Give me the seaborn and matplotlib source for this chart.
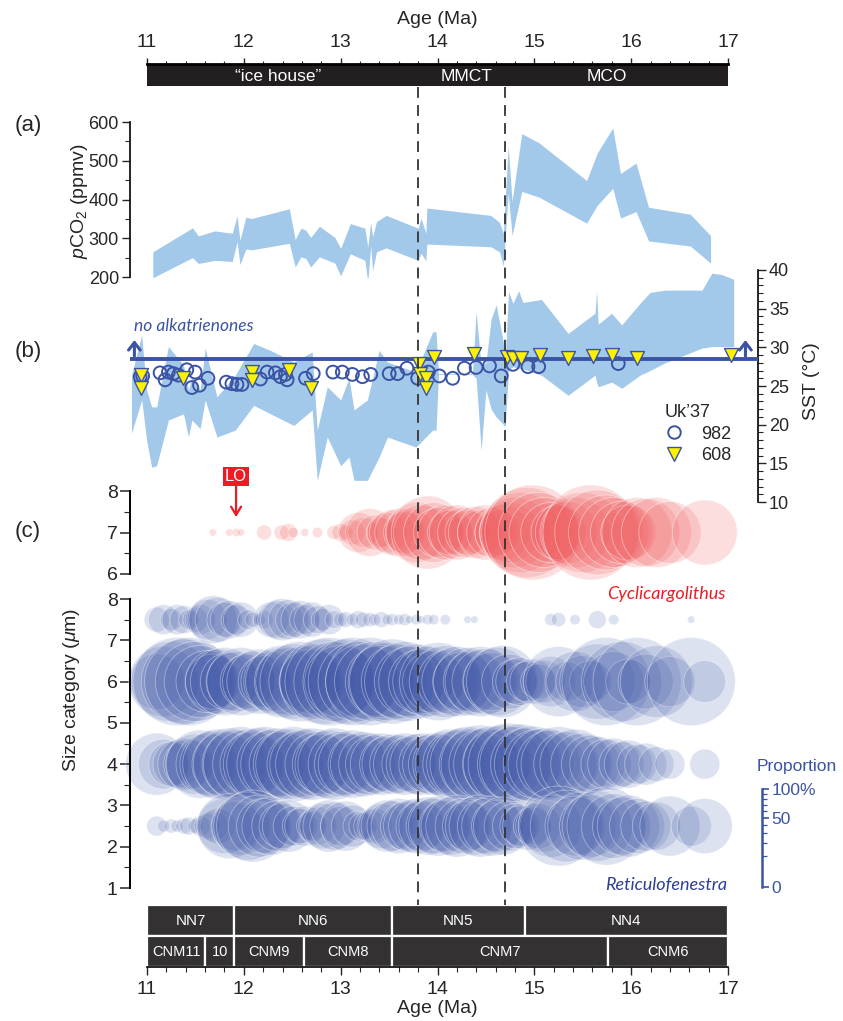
import numpy as np
import matplotlib
matplotlib.use("Agg")
import matplotlib.pyplot as plt
import seaborn as sns
from matplotlib import font_manager
from matplotlib.lines import Line2D
from matplotlib.ticker import MultipleLocator, FixedLocator

# ---------------- data ----------------
co2_age = [11.06, 11.47, 11.53, 11.70, 11.88, 11.93, 11.96, 12.02, 12.08, 12.47,
           12.53, 12.59, 12.64, 12.69, 12.78, 12.94, 13.00, 13.10, 13.25, 13.28,
           13.31, 13.33, 13.37, 13.47, 13.80, 13.83, 13.88, 13.89, 14.55, 14.64,
           14.68, 14.73, 14.77, 14.87, 15.05, 15.54, 15.65, 15.81, 15.89, 16.05,
           16.18, 16.61, 16.82]
co2_hi = [265, 327, 306, 319, 313, 358, 295, 354, 351, 376,
          297, 326, 321, 302, 331, 302, 274, 338, 326, 278,
          341, 304, 343, 359, 326, 352, 313, 378, 359, 341,
          313, 539, 395, 570, 546, 449, 520, 585, 467, 494,
          380, 362, 307]
co2_lo = [198, 250, 235, 243, 240, 291, 232, 272, 270, 287,
          226, 252, 248, 226, 252, 236, 203, 260, 243, 186,
          280, 216, 265, 275, 243, 261, 242, 285, 278, 265,
          228, 416, 307, 421, 406, 339, 385, 429, 352, 369,
          293, 280, 236]

sst_age = [10.84, 10.945, 10.996, 11.048, 11.10, 11.221, 11.377, 11.428, 11.463, 11.549,
           11.601, 11.722, 11.912, 12.102, 12.275, 12.516, 12.706, 12.758, 12.862, 13.00,
           13.086, 13.138, 13.276, 13.397, 13.483, 13.777, 13.95, 13.985, 14.01, 14.36,
           14.399, 14.451, 14.50, 14.554, 14.606, 14.675, 14.699, 14.733, 14.779, 14.838,
           14.883, 15.073, 15.349, 15.626, 15.643, 15.66, 15.798, 15.902, 16.092, 16.195,
           16.351, 16.731, 16.834, 16.938, 17.059]
sst_hi = [26.4, 31.6, 24.5, 22.3, 22.3, 30.1, 27.7, 24.5, 26.2, 24.5,
          29.9, 23.6, 26.4, 30.5, 29.6, 28.1, 29.4, 19.3, 24.9, 23.2,
          26.0, 21.9, 23.2, 29.6, 28.1, 26.8, 32.0, 32.0, 26.6, 26.6,
          34.6, 27.5, 28.0, 33.7, 35.5, 31.0, 28.5, 37.2, 35.7, 37.3,
          35.8, 36.2, 31.8, 34.4, 37.3, 33.0, 34.4, 32.9, 35.7, 37.1,
          37.4, 37.4, 39.6, 39.4, 38.8]
sst_lo = [18.9, 23.2, 18.0, 14.5, 14.7, 20.6, 21.4, 18.4, 20.6, 19.5,
          23.2, 18.4, 19.3, 22.5, 21.4, 19.9, 21.9, 12.8, 18.4, 14.7,
          15.8, 12.8, 12.8, 15.8, 18.4, 17.1, 19.3, 19.3, 26.5, 26.5,
          26.0, 16.7, 24.5, 22.0, 21.0, 20.1, 19.7, 27.1, 27.5, 27.3,
          27.2, 26.4, 23.8, 26.4, 25.5, 24.9, 25.5, 24.7, 26.4, 27.0,
          28.0, 29.9, 30.1, 30.1, 30.1]

uk982_age = [10.93, 10.955, 11.135, 11.187, 11.221, 11.273, 11.325, 11.411, 11.463, 11.497,
             11.542, 11.629, 11.819, 11.877, 11.929, 11.981, 12.171, 12.240, 12.326, 12.378,
             12.430, 12.447, 12.637, 12.717, 12.920, 13.017, 13.121, 13.225, 13.311, 13.501,
             13.588, 13.684, 13.795, 13.905, 14.019, 14.157, 14.278, 14.399, 14.537, 14.658,
             14.779, 14.934, 15.045, 15.867]
uk982_sst = [26.2, 26.3, 26.7, 25.8, 26.8, 26.6, 26.4, 27.1, 24.8, 26.8,
             25.1, 26.0, 25.5, 25.3, 25.2, 25.2, 25.9, 26.8, 26.7, 26.2,
             26.5, 25.8, 26.0, 26.6, 26.8, 26.8, 26.5, 26.2, 26.5, 26.6,
             26.6, 27.3, 26.0, 26.8, 26.3, 26.0, 27.3, 27.4, 27.6, 26.3,
             27.8, 27.5, 27.5, 27.9]
uk608_age = [10.94, 10.94, 11.37, 12.085, 12.085, 12.465, 12.696, 13.805, 13.82, 13.88,
             13.88, 13.967, 14.382, 14.72, 14.779, 14.866, 15.056, 15.343, 15.602, 15.798,
             16.064, 17.031]
uk608_sst = [26.4, 24.7, 26.0, 26.8, 25.8, 27.1, 24.7, 27.9, 26.5, 26.0,
             24.8, 28.7, 29.1, 28.7, 28.6, 28.6, 29.0, 28.6, 28.9, 29.0,
             28.6, 29.0]
no_alk_sst = 28.5

sample_age = [11.10, 11.17, 11.25, 11.31, 11.38, 11.43, 11.50, 11.55, 11.62, 11.68,
              11.73, 11.80, 11.85, 11.92, 11.97, 12.04, 12.09, 12.16, 12.21, 12.28,
              12.34, 12.39, 12.46, 12.51, 12.58, 12.63, 12.70, 12.76, 12.81, 12.88,
              12.93, 13.00, 13.05, 13.12, 13.18, 13.23, 13.30, 13.35, 13.42, 13.48,
              13.53, 13.60, 13.66, 13.71, 13.78, 13.83, 13.90, 13.96, 14.01, 14.08,
              14.13, 14.20, 14.26, 14.31, 14.38, 14.44, 14.49, 14.56, 14.62, 14.67,
              14.74, 14.80, 14.85, 14.92, 14.98, 15.04, 15.10, 15.17, 15.25, 15.33,
              15.42, 15.49, 15.58, 15.65, 15.74, 15.82, 15.90, 15.97, 16.06, 16.15,
              16.26, 16.40, 16.62, 16.76]
# proportions (%) of each size category
reti_75 = [4.7, 6.8, 3.7, 6.8, 5.9, 3.0, 4.7, 6.8, 12.1, 17.4,
           15.3, 9.3, 10.9, 6.8, 9.3, 3.0, 1.7, 1.1, 2.4, 9.3,
           10.9, 13.3, 12.1, 9.3, 10.9, 6.8, 9.3, 5.9, 3.7, 6.8,
           2.4, 1.5, 1.9, 1.1, 2.4, 1.7, 1.5, 1.1, 1.9, 0.8,
           1.1, 0.8, 1.1, 0.5, 0.8, 0.5, 0.8, 0.8, 0, 0.8,
           0, 0, 0, 0.4, 0.4, 0, 0, 0, 0, 0,
           0, 0, 0, 0, 0, 0, 0, 1.1, 1.5, 0,
           0.8, 0, 0, 2.4, 0, 0.8, 0, 0, 0, 0,
           0, 0, 0.4, 0]
reti_6 = [22.9, 37.1, 48.4, 58.6, 54.6, 58.6, 48.4, 39.2, 29.1, 22.9,
          31.9, 35.0, 25.4, 27.2, 35.0, 22.9, 27.2, 31.9, 20.4, 27.2,
          32.9, 39.2, 35.0, 42.5, 48.4, 39.2, 31.9, 42.5, 54.6, 58.6,
          48.4, 39.2, 54.6, 58.6, 48.4, 42.5, 58.6, 48.4, 39.2, 46.0,
          54.6, 42.5, 48.4, 37.1, 42.5, 31.9, 37.1, 29.1, 46.0, 39.2,
          31.9, 37.1, 27.2, 35.0, 29.1, 37.1, 32.9, 25.4, 35.0, 39.2,
          22.9, 15.3, 17.4, 12.1, 15.3, 9.3, 13.3, 18.9, 37.1, 12.1,
          27.2, 20.4, 13.3, 42.5, 58.6, 27.2, 48.4, 15.3, 58.6, 22.9,
          39.2, 18.9, 58.6, 13.3]
reti_4 = [29.1, 18.9, 15.3, 17.4, 20.4, 18.9, 27.2, 35.0, 29.1, 32.9,
          37.1, 31.9, 39.2, 35.0, 42.5, 37.1, 31.9, 39.2, 42.5, 35.0,
          39.2, 31.9, 37.1, 42.5, 32.9, 37.1, 39.2, 31.9, 27.2, 35.0,
          39.2, 31.9, 29.1, 35.0, 27.2, 31.9, 29.1, 25.4, 29.1, 22.9,
          27.2, 25.4, 29.1, 22.9, 27.2, 29.1, 25.4, 29.1, 27.2, 31.9,
          37.1, 35.0, 39.2, 42.5, 37.1, 46.0, 39.2, 43.7, 37.1, 46.0,
          50.8, 42.5, 48.4, 39.2, 43.7, 37.1, 39.2, 35.0, 42.5, 31.9,
          37.1, 29.1, 25.4, 22.9, 18.9, 20.4, 15.3, 17.4, 12.1, 13.3,
          9.3, 6.8, 0, 6.8]
reti_25 = [3.0, 1.1, 1.5, 1.1, 1.9, 2.4, 1.7, 3.0, 4.7, 6.8,
           9.3, 22.9, 31.9, 18.9, 25.4, 35.0, 39.2, 29.1, 22.9, 25.4,
           18.9, 15.3, 20.4, 12.1, 9.3, 12.1, 6.8, 10.9, 15.3, 20.4,
           17.4, 12.1, 18.9, 13.3, 6.8, 5.9, 7.7, 9.3, 15.3, 20.4,
           18.9, 22.9, 17.4, 20.4, 22.9, 18.9, 25.4, 22.9, 27.2, 20.4,
           25.4, 29.1, 22.9, 18.9, 25.4, 29.1, 22.9, 27.2, 20.4, 25.4,
           18.9, 15.3, 12.1, 17.4, 10.9, 15.3, 20.4, 29.1, 48.4, 39.2,
           27.2, 35.0, 29.1, 37.1, 46.0, 31.9, 25.4, 29.1, 22.9, 18.9,
           17.4, 27.2, 12.1, 22.9]
cycli_7 = [0, 0, 0, 0, 0, 0, 0, 0, 0, 0.4,
           0, 0, 0.4, 0.5, 0.4, 0, 0, 0, 1.7, 0,
           0, 1.7, 2.4, 0.8, 0, 0.5, 0, 0.8, 0, 0,
           1.5, 2.4, 1.7, 4.7, 12.1, 6.8, 17.4, 9.3, 6.8, 12.1,
           15.3, 17.4, 13.3, 17.4, 27.2, 22.9, 40.3, 27.2, 18.9, 22.9,
           15.3, 22.9, 18.9, 15.3, 20.4, 15.3, 22.9, 18.9, 15.3, 22.9,
           27.2, 37.1, 48.4, 61.2, 68.2, 48.4, 37.1, 27.2, 22.9, 29.1,
           37.1, 48.4, 68.2, 54.6, 42.5, 37.1, 29.1, 22.9, 37.1, 35.0,
           37.1, 29.1, 0, 31.9]
reti_rows = [(7.5, reti_75), (6, reti_6), (4, reti_4), (2.5, reti_25)]

era_bounds = [11, 13.8, 14.7, 17]
era_labels = ['\u201cice house\u201d', 'MMCT', 'MCO']
era_label_age = [12.35, 14.3, 15.75]
nn_bounds = [11, 11.9, 13.53, 14.9, 17]
nn_labels = ['NN7', 'NN6', 'NN5', 'NN4']
cnm_bounds = [11, 11.6, 11.9, 12.62, 13.53, 15.76, 17]
cnm_labels = ['CNM11', '10', 'CNM9', 'CNM8', 'CNM7', 'CNM6']
boundaries = [13.8, 14.7]
lo_age = 11.92

# ---------------- style ----------------
sns.set_theme(style='ticks')
avail = {f.name for f in font_manager.fontManager.ttflist}
COND = 'Liberation Sans Narrow' if 'Liberation Sans Narrow' in avail else 'Liberation Sans'
plt.rcParams['font.family'] = [COND, 'DejaVu Sans']
plt.rcParams['mathtext.fontset'] = 'custom'
plt.rcParams['mathtext.rm'] = 'Liberation Sans'
plt.rcParams['mathtext.it'] = 'Liberation Sans:italic'
ITAL = ['Lato', 'DejaVu Sans']

BAND = '#a3c9ea'
DBLUE = '#3b53a4'
RED = '#ed1c24'
BUB_BLUE = (0.23, 0.33, 0.65)
BUB_RED = (0.94, 0.36, 0.37)
SIZE_PER_PCT = (0.72 * 115) ** 2 / 100.0

W, H = 843, 1021
PX11, PX17 = 147, 728


def age_at(px):
    return 11 + (px - PX11) * 6.0 / (PX17 - PX11)


fig = plt.figure(figsize=(W / 100, H / 100), dpi=100)
fig.patch.set_facecolor('white')


def add_ax(x0, x1, y0, y1):
    ax = fig.add_axes([x0 / W, 1 - y1 / H, (x1 - x0) / W, (y1 - y0) / H])
    ax.set_facecolor('none')
    return ax


def T(px, py, s, **kw):
    kw.setdefault('ha', 'center')
    kw.setdefault('va', 'center')
    return fig.text(px / W, 1 - py / H, s, **kw)


def only_spine(ax, side, lw=1.2, color='black'):
    for s in ['left', 'right', 'top', 'bottom']:
        ax.spines[s].set_visible(s == side)
    ax.spines[side].set_linewidth(lw)
    ax.spines[side].set_color(color)


PL, PR = 130, 758
XL, XR = age_at(PL), age_at(PR)

# ---------------- top age bar ----------------
ax_top = add_ax(PX11, PX17, 64, 86)
ax_top.set_xlim(11, 17)
ax_top.set_ylim(0, 1)
ax_top.barh([0.5] * 3, np.diff(era_bounds), left=era_bounds[:-1], height=1,
            color='#231f20', linewidth=0)
for lab, a in zip(era_labels, era_label_age):
    ax_top.text(a, 0.45, lab, color='white', ha='center', va='center', fontsize=12.5)
only_spine(ax_top, 'top', lw=2)
ax_top.xaxis.set_ticks_position('top')
ax_top.set_xticks(range(11, 18))
ax_top.xaxis.set_minor_locator(MultipleLocator(0.2))
ax_top.tick_params(axis='x', which='major', direction='out', length=4.5, width=1,
                   pad=5, labelsize=14, top=True, bottom=False, labeltop=True, labelbottom=False)
ax_top.tick_params(axis='x', which='minor', direction='out', length=2.5, width=0.8,
                   top=True, bottom=False)
ax_top.set_yticks([])
T((PX11 + PX17) / 2, 20, 'Age (Ma)', fontsize=14)

# ---------------- panel a: pCO2 ----------------
ax_a = add_ax(PL, PR, 122, 277)
ax_a.set_xlim(XL, XR)
ax_a.set_ylim(200, 600)
ax_a.fill_between(co2_age, co2_lo, co2_hi, color=BAND, linewidth=0)
only_spine(ax_a, 'left')
ax_a.set_yticks(range(200, 601, 100))
ax_a.yaxis.set_minor_locator(MultipleLocator(50))
ax_a.tick_params(axis='y', which='major', direction='out', length=6, width=1, pad=2, labelsize=13)
ax_a.tick_params(axis='y', which='minor', direction='out', length=3.5, width=0.8)
ax_a.tick_params(axis='x', bottom=False, labelbottom=False)
T(80, 201, r'$p$CO$_2$ (ppmv)', rotation=90, fontsize=14, family='Liberation Sans')

# ---------------- panel b: SST ----------------
ax_b = add_ax(PL, PR, 270, 502)
ax_b.set_xlim(XL, XR)
ax_b.set_ylim(10, 40)
ax_b.fill_between(sst_age, sst_lo, sst_hi, color=BAND, linewidth=0)
ax_b.axhline(no_alk_sst, color=DBLUE, lw=2.8, zorder=3)
for fx in (0.007, 0.98):
    ax_b.annotate('', xy=(fx, no_alk_sst + 2.8), xytext=(fx, no_alk_sst),
                  xycoords=('axes fraction', 'data'), textcoords=('axes fraction', 'data'),
                  arrowprops=dict(arrowstyle='->,head_width=0.35,head_length=0.45',
                                  color=DBLUE, lw=2.2), annotation_clip=False)
sns.scatterplot(x=uk982_age, y=uk982_sst, marker='o', s=85, facecolor='none',
                edgecolor=DBLUE, linewidth=1.4, ax=ax_b, legend=False, zorder=4)
sns.scatterplot(x=uk608_age, y=uk608_sst, marker='v', s=100, facecolor='#fff200',
                edgecolor=DBLUE, linewidth=1.0, ax=ax_b, legend=False, zorder=5)
only_spine(ax_b, 'right')
ax_b.yaxis.tick_right()
ax_b.set_yticks(range(10, 41, 5))
ax_b.yaxis.set_minor_locator(MultipleLocator(1))
ax_b.tick_params(axis='y', which='major', direction='out', length=6, width=1, pad=2, labelsize=13)
ax_b.tick_params(axis='y', which='minor', direction='out', length=3.5, width=0.8)
ax_b.tick_params(axis='x', bottom=False, labelbottom=False)
T(811, 381, 'SST (\u00b0C)', rotation=90, fontsize=14, family='Liberation Sans')
T(194, 326, 'no alkatrienones', color=DBLUE, fontsize=12.5, style='italic', family=ITAL)
handles = [Line2D([], [], marker='o', ls='none', mfc='none', mec=DBLUE, ms=9, mew=1.4, label='982'),
           Line2D([], [], marker='v', ls='none', mfc='#fff200', mec=DBLUE, ms=10, mew=1.0, label='608')]
leg = ax_b.legend(handles=handles, title='Uk\u201937', loc='upper left',
                  bbox_to_anchor=(665 / W, 1 - 404 / H), bbox_transform=fig.transFigure,
                  frameon=False, alignment='left', prop={'family': 'Liberation Sans', 'size': 13},
                  title_fontproperties={'family': 'Liberation Sans', 'size': 13},
                  handlelength=1.0, handletextpad=1.0, labelspacing=0.25, borderpad=0, borderaxespad=0)

# ---------------- panel c: size categories ----------------
ax_c1 = add_ax(PL, PR, 491, 574)
ax_c1.set_xlim(XL, XR)
ax_c1.set_ylim(6, 8)
sns.scatterplot(x=sample_age, y=[7] * len(sample_age), s=np.array(cycli_7) * SIZE_PER_PCT,
                facecolor=BUB_RED + (0.2,), edgecolor=(1, 1, 1, 0.45), linewidth=0.6,
                ax=ax_c1, legend=False, clip_on=False)
only_spine(ax_c1, 'left', lw=1.4)
ax_c1.set_yticks([6, 7, 8])
ax_c1.yaxis.set_minor_locator(MultipleLocator(0.5))
ax_c1.tick_params(axis='y', which='major', direction='out', length=7, width=1.1, pad=2, labelsize=14)
ax_c1.tick_params(axis='y', which='minor', direction='out', length=4, width=0.8)
ax_c1.tick_params(axis='x', bottom=False, labelbottom=False)
ax_c1.annotate('LO', xy=(lo_age, 7.37), xytext=(lo_age, 8.36), color='white', fontsize=12,
               ha='center', va='center', family='Liberation Sans',
               bbox=dict(boxstyle='square,pad=0.12', fc=RED, ec='none'),
               arrowprops=dict(arrowstyle='->,head_width=0.3,head_length=0.5', color=RED, lw=1.6,
                               shrinkA=0, shrinkB=0),
               annotation_clip=False)

ax_c2 = add_ax(PL, PR, 599, 888)
ax_c2.set_xlim(XL, XR)
ax_c2.set_ylim(1, 8)
for yrow, vals in reti_rows:
    sns.scatterplot(x=sample_age, y=[yrow] * len(sample_age), s=np.array(vals) * SIZE_PER_PCT,
                    facecolor=BUB_BLUE + (0.17,), edgecolor=(1, 1, 1, 0.4), linewidth=0.6,
                    ax=ax_c2, legend=False, clip_on=False)
only_spine(ax_c2, 'left', lw=1.4)
ax_c2.set_yticks(range(1, 9))
ax_c2.yaxis.set_minor_locator(MultipleLocator(0.5))
ax_c2.tick_params(axis='y', which='major', direction='out', length=7, width=1.1, pad=2, labelsize=14)
ax_c2.tick_params(axis='y', which='minor', direction='out', length=4, width=0.8)
ax_c2.tick_params(axis='x', bottom=False, labelbottom=False)
T(72, 690, r'Size category ($\mu$m)', rotation=90, fontsize=14, family='Liberation Sans')
T(666, 594, 'Cyclicargolithus', color=RED, fontsize=13, style='italic', family=ITAL)
T(666, 885, 'Reticulofenestra', color='#2e3f96', fontsize=13, style='italic', family=ITAL)

# proportion scale
ax_p = add_ax(752, 762, 789, 887)
ax_p.set_yscale('function', functions=(np.sqrt, np.square))
ax_p.set_ylim(0, 1)
only_spine(ax_p, 'right', lw=1.8, color=DBLUE)
ax_p.yaxis.tick_right()
ax_p.yaxis.set_major_locator(FixedLocator([0, 0.5, 1.0]))
ax_p.set_yticklabels(['0', '50', '100%'])
ax_p.yaxis.set_minor_locator(FixedLocator([0.1, 0.2, 0.3, 0.4, 0.6, 0.7, 0.8, 0.9]))
ax_p.tick_params(axis='y', which='major', direction='out', length=5, width=1.2, pad=2,
                 labelsize=12.5, colors=DBLUE)
ax_p.tick_params(axis='y', which='minor', direction='out', length=3.5, width=0.9, colors=DBLUE)
for lab in ax_p.get_yticklabels():
    lab.set_family('Liberation Sans')
ax_p.set_xticks([])
T(797, 766, 'Proportion', color=DBLUE, fontsize=12.5, family='Liberation Sans')

# ---------------- bottom zones ----------------
ax_z = add_ax(PX11, PX17, 905, 967)
ax_z.set_xlim(11, 17)
ax_z.set_ylim(0, 2)
ax_z.barh([1.5] * len(nn_labels), np.diff(nn_bounds), left=nn_bounds[:-1], height=1,
          color='#333132', edgecolor='white', linewidth=1.6)
ax_z.barh([0.5] * len(cnm_labels), np.diff(cnm_bounds), left=cnm_bounds[:-1], height=1,
          color='#333132', edgecolor='white', linewidth=1.6)
for lab, a0, a1 in zip(nn_labels, nn_bounds[:-1], nn_bounds[1:]):
    ax_z.text((a0 + a1) / 2, 1.5, lab, color='white', ha='center', va='center', fontsize=11)
for lab, a0, a1 in zip(cnm_labels, cnm_bounds[:-1], cnm_bounds[1:]):
    ax_z.text((a0 + a1) / 2, 0.5, lab, color='white', ha='center', va='center', fontsize=10.5)
only_spine(ax_z, 'bottom', lw=1.2)
ax_z.spines['bottom'].set_zorder(5)
ax_z.set_xticks(range(11, 18))
ax_z.xaxis.set_minor_locator(MultipleLocator(0.2))
ax_z.tick_params(axis='x', which='major', direction='out', length=6, width=1, pad=4, labelsize=14)
ax_z.tick_params(axis='x', which='minor', direction='out', length=3.5, width=0.8)
ax_z.set_yticks([])
T((PX11 + PX17) / 2, 1008, 'Age (Ma)', fontsize=14)

# panel labels
T(28, 126, '(a)', fontsize=16, family='Liberation Sans')
T(28, 352, '(b)', fontsize=16, family='Liberation Sans')
T(28, 532, '(c)', fontsize=16, family='Liberation Sans')

# ---------------- boundary lines ----------------
ax_ov = fig.add_axes([0, 0, 1, 1])
ax_ov.set_xlim(age_at(0), age_at(W))
ax_ov.set_ylim(H, 0)
ax_ov.axis('off')
ax_ov.vlines(boundaries, 87, 905, colors='#333333', linestyles=(0, (6, 4)), linewidth=1.3)

fig.savefig('out.png', dpi=100, facecolor='white')
